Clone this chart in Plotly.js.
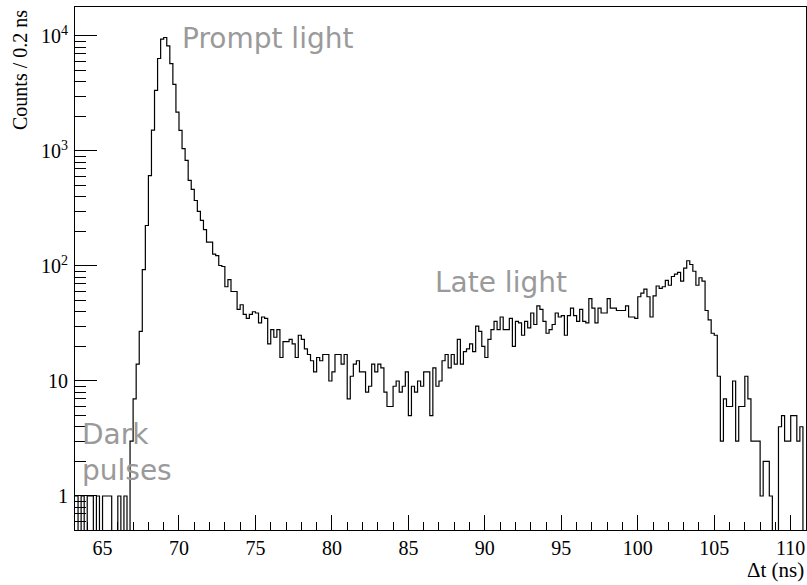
<!DOCTYPE html>
<html>
<head>
<meta charset="utf-8">
<script src="https://cdn.plot.ly/plotly-3.0.1.min.js"></script>
<style>html,body{margin:0;padding:0;background:#fff;}#chart{width:807px;height:585px;}</style>
</head>
<body>
<div id="chart"></div>
<script>
// Histogram definition: 0.2 ns bins starting at 63.2 ns
const binStart = 63.2;
const binWidth = 0.2;

// Counts per 0.2 ns bin
const counts = [
  1, 0, 1, 0, 1, 1, 0, 1, 0, 1,
  1, 1, 0, 0, 1, 0, 1, 0, 3, 7,
  14, 27, 93, 225, 610, 1520, 3370, 6370, 9380, 9700,
  8200, 5760, 3800, 2180, 1510, 1050, 830, 555, 463, 371,
  298, 249, 207, 161, 161, 127, 123, 101, 99, 66,
  76, 60, 60, 42, 46, 38, 35, 38, 40, 39,
  32, 36, 35, 21, 28, 24, 28, 16, 22, 22,
  23, 21, 16, 25, 23, 19, 17, 15, 12, 16,
  15, 17, 17, 10, 12, 17, 17, 14, 17, 7,
  11, 14, 15, 12, 12, 8, 9, 14, 12, 14,
  13, 8, 6, 6, 9, 10, 8, 9, 12, 5,
  9, 8, 10, 9, 12, 12, 5, 13, 9, 10,
  15, 17, 13, 17, 14, 23, 14, 18, 19, 21,
  18, 30, 27, 20, 16, 23, 28, 33, 28, 36,
  28, 28, 35, 20, 33, 32, 25, 33, 29, 39,
  31, 45, 42, 33, 26, 28, 31, 39, 36, 37,
  25, 37, 43, 37, 33, 42, 33, 32, 52, 43,
  32, 43, 39, 39, 52, 43, 43, 41, 41, 41,
  45, 36, 36, 35, 54, 58, 63, 54, 36, 55,
  67, 64, 66, 75, 68, 81, 85, 88, 74, 96,
  111, 103, 90, 68, 79, 74, 41, 34, 26, 25,
  11, 3, 7, 6, 6, 10, 3, 6, 6, 11,
  7, 3, 3, 3, 1, 2, 2, 1, 0, 0,
  4, 5, 3, 3, 5, 5, 3, 4, 0
];

// Axis tick labels
const yTickVals = [1, 10, 100, 1000, 10000];
const yTickText = ['1', '10', '10<sup>2</sup>', '10<sup>3</sup>', '10<sup>4</sup>'];
const xTitle = '\u0394t (ns)';
const yTitle = 'Counts / 0.2 ns';
const labels = ['Prompt light', 'Late light', 'Dark<br>pulses'];

// Build step outline: bin edges, empty bins drawn below the axis floor
const edges = [];
for (let i = 0; i <= counts.length; i++) edges.push(+(binStart + i * binWidth).toFixed(4));
const floorVal = 0.01;
const ys = counts.map(c => (c > 0 ? c : floorVal));
ys.push(ys[ys.length - 1]);

// Minor tick positions for the log axis (2..9 per decade)
const yMinor = [];
for (let d = -1; d <= 4; d++) for (let m = 2; m <= 9; m++) yMinor.push(m * Math.pow(10, d));

const serif = 'Liberation Serif, Times New Roman, serif';
const sans = 'DejaVu Sans, sans-serif';
const grey = '#9a9a9a';

const trace = {
  type: 'scatter', mode: 'lines',
  x: edges, y: ys,
  line: {shape: 'hv', color: '#000', width: 1.2},
  hoverinfo: 'skip'
};

const layout = {
  width: 807, height: 585,
  margin: {l: 75, r: 1, t: 7, b: 55, pad: 0},
  paper_bgcolor: '#fff', plot_bgcolor: '#fff',
  showlegend: false,
  xaxis: {
    range: [63.2, 111.0],
    showgrid: false, zeroline: false,
    showline: true, mirror: true, linecolor: '#000', linewidth: 1,
    ticks: 'inside', ticklen: 15, tickwidth: 1, tickcolor: '#000',
    tickmode: 'linear', tick0: 65, dtick: 5,
    minor: {ticks: 'inside', ticklen: 8, tickwidth: 1, tickcolor: '#000', dtick: 1, showgrid: false},
    tickfont: {family: serif, size: 20, color: '#000'},
    ticklabelstandoff: 0
  },
  yaxis: {
    type: 'log',
    range: [-0.2957, 4.252],
    showgrid: false, zeroline: false,
    showline: true, mirror: true, linecolor: '#000', linewidth: 1,
    ticks: 'inside', ticklen: 22, tickwidth: 1, tickcolor: '#000',
    tickmode: 'array', tickvals: yTickVals, ticktext: yTickText,
    minor: {ticks: 'inside', ticklen: 11, tickwidth: 1, tickcolor: '#000', tickmode: 'array', tickvals: yMinor, showgrid: false},
    tickfont: {family: serif, size: 20, color: '#000'},
    ticklabelstandoff: 2
  },
  annotations: [
    {text: labels[0], xref: 'paper', yref: 'paper', x: 0.1436, y: 0.9407, xanchor: 'left', yanchor: 'middle',
     showarrow: false, font: {family: sans, size: 28, color: grey}},
    {text: labels[1], xref: 'paper', yref: 'paper', x: (433 - 75) / 731, y: 1 - (282 - 7) / 523, xanchor: 'left', yanchor: 'middle',
     showarrow: false, font: {family: sans, size: 28, color: grey}},
    {text: labels[2], xref: 'paper', yref: 'paper', x: (80 - 75) / 731, y: 1 - (452 - 7) / 523, xanchor: 'left', yanchor: 'middle',
     align: 'left', showarrow: false, font: {family: sans, size: 28, color: grey}},
    {text: xTitle, xref: 'paper', yref: 'paper', x: 1.0, y: 1 - (570 - 7) / 523, xanchor: 'right', yanchor: 'middle',
     showarrow: false, font: {family: serif, size: 21, color: '#000'}},
    {text: yTitle, xref: 'paper', yref: 'paper', x: (20 - 75) / 731, y: 1 - (8 - 7) / 523, xanchor: 'center', yanchor: 'top',
     textangle: -90, showarrow: false, font: {family: serif, size: 20, color: '#000'}}
  ]
};

Plotly.newPlot('chart', [trace], layout, {displayModeBar: false, staticPlot: true});
</script>
</body>
</html>
